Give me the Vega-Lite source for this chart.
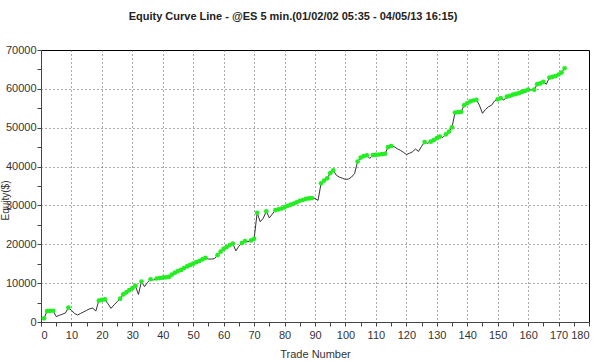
{
  "$schema": "https://vega.github.io/schema/vega-lite/v6.json",
  "width": 548,
  "height": 272,
  "autosize": {"type": "none"},
  "padding": {"left": 41, "top": 50, "right": 11, "bottom": 39},
  "background": "white",
  "title": {
    "text": "Equity Curve Line - @ES 5 min.(01/02/02 05:35 - 04/05/13 16:15)",
    "font": "Liberation Sans",
    "fontSize": 11,
    "fontWeight": "bold",
    "color": "#222",
    "anchor": "middle",
    "dx": -22,
    "offset": 22
  },
  "config": {
    "view": {"stroke": "#000", "strokeWidth": 1},
    "axis": {
      "labelFont": "Liberation Sans",
      "labelFontSize": 11,
      "labelColor": "#333",
      "titleFont": "Liberation Sans",
      "titleFontSize": 11,
      "titleFontWeight": "normal",
      "titleColor": "#333",
      "domainColor": "#444",
      "tickColor": "#444",
      "tickSize": 4,
      "gridColor": "#555",
      "gridDash": [1, 3],
      "gridWidth": 1
    }
  },
  "data": {
    "values": [
      {"trade": 1, "equity": 950}, {"trade": 2, "equity": 2800}, {"trade": 3, "equity": 2850}, {"trade": 4, "equity": 2900},
      {"trade": 5, "equity": 1400}, {"trade": 6, "equity": 1700}, {"trade": 7, "equity": 2000}, {"trade": 8, "equity": 2300},
      {"trade": 9, "equity": 3700}, {"trade": 10, "equity": 3000}, {"trade": 11, "equity": 2200}, {"trade": 12, "equity": 1800},
      {"trade": 13, "equity": 2200}, {"trade": 14, "equity": 2600}, {"trade": 15, "equity": 3000}, {"trade": 16, "equity": 3400},
      {"trade": 17, "equity": 3600}, {"trade": 18, "equity": 2800}, {"trade": 19, "equity": 5500}, {"trade": 20, "equity": 5700},
      {"trade": 21, "equity": 5800}, {"trade": 22, "equity": 4700}, {"trade": 23, "equity": 3500}, {"trade": 24, "equity": 4400},
      {"trade": 25, "equity": 5200}, {"trade": 26, "equity": 6000}, {"trade": 27, "equity": 7100}, {"trade": 28, "equity": 7600},
      {"trade": 29, "equity": 8200}, {"trade": 30, "equity": 8700}, {"trade": 31, "equity": 9300}, {"trade": 32, "equity": 7100},
      {"trade": 33, "equity": 10400}, {"trade": 34, "equity": 9100}, {"trade": 35, "equity": 10200}, {"trade": 36, "equity": 11000},
      {"trade": 37, "equity": 10800}, {"trade": 38, "equity": 11200}, {"trade": 39, "equity": 11300}, {"trade": 40, "equity": 11400},
      {"trade": 41, "equity": 11500}, {"trade": 42, "equity": 11600}, {"trade": 43, "equity": 12200}, {"trade": 44, "equity": 12700},
      {"trade": 45, "equity": 13100}, {"trade": 46, "equity": 13400}, {"trade": 47, "equity": 13900}, {"trade": 48, "equity": 14300},
      {"trade": 49, "equity": 14700}, {"trade": 50, "equity": 15000}, {"trade": 51, "equity": 15400}, {"trade": 52, "equity": 15700},
      {"trade": 53, "equity": 16100}, {"trade": 54, "equity": 16500}, {"trade": 55, "equity": 16200}, {"trade": 56, "equity": 16200},
      {"trade": 57, "equity": 16300}, {"trade": 58, "equity": 17200}, {"trade": 59, "equity": 18100}, {"trade": 60, "equity": 18800},
      {"trade": 61, "equity": 19300}, {"trade": 62, "equity": 19800}, {"trade": 63, "equity": 20200}, {"trade": 64, "equity": 18300},
      {"trade": 65, "equity": 19500}, {"trade": 66, "equity": 20300}, {"trade": 67, "equity": 20800}, {"trade": 68, "equity": 20700},
      {"trade": 69, "equity": 21000}, {"trade": 70, "equity": 21400}, {"trade": 71, "equity": 28100}, {"trade": 72, "equity": 25800},
      {"trade": 73, "equity": 26700}, {"trade": 74, "equity": 28500}, {"trade": 75, "equity": 26800}, {"trade": 76, "equity": 27800},
      {"trade": 77, "equity": 28800}, {"trade": 78, "equity": 29000}, {"trade": 79, "equity": 29200}, {"trade": 80, "equity": 29500},
      {"trade": 81, "equity": 29900}, {"trade": 82, "equity": 30200}, {"trade": 83, "equity": 30500}, {"trade": 84, "equity": 30800},
      {"trade": 85, "equity": 31200}, {"trade": 86, "equity": 31400}, {"trade": 87, "equity": 31700}, {"trade": 88, "equity": 31800},
      {"trade": 89, "equity": 31900}, {"trade": 90, "equity": 31800}, {"trade": 91, "equity": 31300}, {"trade": 92, "equity": 35700},
      {"trade": 93, "equity": 36400}, {"trade": 94, "equity": 37000}, {"trade": 95, "equity": 38300}, {"trade": 96, "equity": 39000},
      {"trade": 97, "equity": 37800}, {"trade": 98, "equity": 37300}, {"trade": 99, "equity": 37000}, {"trade": 100, "equity": 36700},
      {"trade": 101, "equity": 36800}, {"trade": 102, "equity": 37300}, {"trade": 103, "equity": 38200}, {"trade": 104, "equity": 41300},
      {"trade": 105, "equity": 42300}, {"trade": 106, "equity": 42700}, {"trade": 107, "equity": 42900}, {"trade": 108, "equity": 42100},
      {"trade": 109, "equity": 42950}, {"trade": 110, "equity": 43000}, {"trade": 111, "equity": 43100}, {"trade": 112, "equity": 43200},
      {"trade": 113, "equity": 43300}, {"trade": 114, "equity": 45000}, {"trade": 115, "equity": 45300}, {"trade": 116, "equity": 45100},
      {"trade": 117, "equity": 44600}, {"trade": 118, "equity": 44200}, {"trade": 119, "equity": 43700}, {"trade": 120, "equity": 43100},
      {"trade": 121, "equity": 43400}, {"trade": 122, "equity": 43800}, {"trade": 123, "equity": 44500}, {"trade": 124, "equity": 43900},
      {"trade": 125, "equity": 45200}, {"trade": 126, "equity": 46300}, {"trade": 127, "equity": 46000}, {"trade": 128, "equity": 46400},
      {"trade": 129, "equity": 46800}, {"trade": 130, "equity": 47300}, {"trade": 131, "equity": 47700}, {"trade": 132, "equity": 47500},
      {"trade": 133, "equity": 48300}, {"trade": 134, "equity": 49000}, {"trade": 135, "equity": 50100}, {"trade": 136, "equity": 53900},
      {"trade": 137, "equity": 54000}, {"trade": 138, "equity": 54100}, {"trade": 139, "equity": 55800}, {"trade": 140, "equity": 56300},
      {"trade": 141, "equity": 56800}, {"trade": 142, "equity": 57000}, {"trade": 143, "equity": 57200}, {"trade": 144, "equity": 55800},
      {"trade": 145, "equity": 53700}, {"trade": 146, "equity": 54700}, {"trade": 147, "equity": 55400}, {"trade": 148, "equity": 55800},
      {"trade": 149, "equity": 56900}, {"trade": 150, "equity": 57300}, {"trade": 151, "equity": 57600}, {"trade": 152, "equity": 57100},
      {"trade": 153, "equity": 58000}, {"trade": 154, "equity": 58200}, {"trade": 155, "equity": 58500}, {"trade": 156, "equity": 58700},
      {"trade": 157, "equity": 58900}, {"trade": 158, "equity": 59200}, {"trade": 159, "equity": 59500}, {"trade": 160, "equity": 59800},
      {"trade": 161, "equity": 59700}, {"trade": 162, "equity": 59800}, {"trade": 163, "equity": 61200}, {"trade": 164, "equity": 61400},
      {"trade": 165, "equity": 61800}, {"trade": 166, "equity": 61200}, {"trade": 167, "equity": 62900}, {"trade": 168, "equity": 63100},
      {"trade": 169, "equity": 63300}, {"trade": 170, "equity": 63700}, {"trade": 171, "equity": 64200}, {"trade": 172, "equity": 65300}
    ]
  },
  "encoding": {
    "x": {
      "field": "trade",
      "type": "quantitative",
      "scale": {"domain": [0, 180], "nice": false, "zero": true},
      "axis": {
        "title": "Trade Number",
        "titlePadding": 8,
        "values": [0,5,10,15,20,25,30,35,40,45,50,55,60,65,70,75,80,85,90,95,100,105,110,115,120,125,130,135,140,145,150,155,160,165,170,175,180],
        "labelExpr": "datum.value % 10 === 0 ? datum.label : ''",
        "format": "d",
        "labelPadding": 3,
        "labelOverlap": false,
        "gridOpacity": {"condition": {"test": "datum.value % 10 === 0 && datum.value > 0 && datum.value < 180", "value": 1}, "value": 0}
      }
    },
    "y": {
      "field": "equity",
      "type": "quantitative",
      "scale": {"domain": [0, 70000], "nice": false},
      "axis": {
        "title": "Equity($)",
        "titleFontSize": 10,
        "titleX": -41,
        "titleY": 150,
        "titleAngle": -90,
        "titleBaseline": "top",
        "values": [0,5000,10000,15000,20000,25000,30000,35000,40000,45000,50000,55000,60000,65000,70000],
        "labelExpr": "datum.value % 10000 === 0 ? datum.label : ''",
        "format": "d",
        "labelPadding": 1,
        "labelOverlap": false,
        "gridOpacity": {"condition": {"test": "datum.value % 10000 === 0 && datum.value > 0 && datum.value < 70000", "value": 1}, "value": 0}
      }
    }
  },
  "layer": [
    {
      "mark": {"type": "line", "color": "#333", "strokeWidth": 1}
    },
    {
      "transform": [
        {"window": [{"op": "max", "field": "equity", "as": "runmax"}], "sort": [{"field": "trade"}], "frame": [null, 0]},
        {"filter": "datum.equity >= datum.runmax"}
      ],
      "mark": {"type": "circle", "color": "#22ee22", "opacity": 1, "size": 22}
    }
  ]
}
